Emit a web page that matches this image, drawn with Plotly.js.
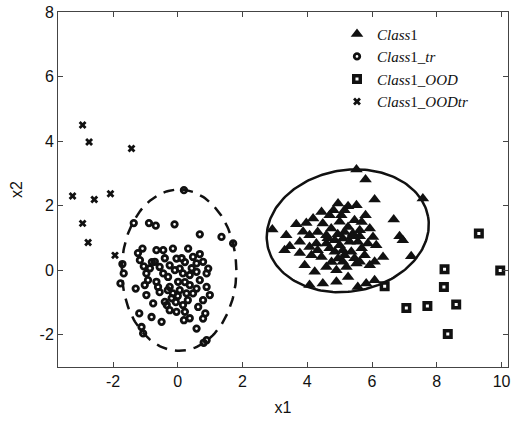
<!DOCTYPE html>
<html>
<head>
<meta charset="utf-8">
<script src="https://cdn.plot.ly/plotly-3.0.1.min.js"></script>
<style>html,body{margin:0;padding:0;background:#fff;}#chart{width:511px;height:425px;}</style>
</head>
<body>
<div id="chart"></div>
<script>
// Class1 (triangles)
const class1X = [5.52,5.80,6.08,7.57,6.67,6.85,6.95,7.21,2.92,3.35,3.66,3.97,4.18,4.44,4.95,5.26,5.52,4.81,5.05,5.80,
  3.87,4.07,4.48,4.74,4.59,5.00,5.26,5.41,5.62,5.93,6.03,3.77,4.07,4.28,4.59,4.85,5.10,5.31,5.56,5.87,
  6.13,4.13,4.44,4.85,5.10,5.36,4.95,5.10,3.92,4.23,4.59,4.90,5.21,5.52,5.26,5.62,5.93,6.08,6.34,4.48,
  4.07,5.56,5.82,6.08,4.90,4.69,5.15,5.46,5.68,5.15,5.37,4.94,4.63,4.32,5.68,4.75,5.15,5.46,5.77,4.32,
  3.77,3.46,3.30,5.00,4.69,5.62];
const class1Y = [3.12,2.81,2.19,2.22,1.57,1.05,0.93,0.43,1.26,1.08,1.42,1.46,1.60,1.80,2.07,1.98,2.01,1.86,1.70,1.70,
  1.19,1.08,1.45,1.29,1.08,1.50,1.34,1.14,1.24,1.29,1.03,0.88,0.72,0.83,0.83,0.93,0.98,0.88,0.88,0.83,
  0.77,0.46,0.41,0.57,0.62,0.57,0.36,0.26,0.15,-0.05,0.10,0.00,0.10,0.21,-0.21,0.26,0.15,0.26,0.41,-0.41,
  -0.46,-0.52,-0.41,-0.31,-0.36,1.70,1.86,1.55,1.49,1.18,1.05,1.11,0.99,1.18,0.68,0.25,0.46,0.37,0.46,0.62,
  0.53,0.74,0.62,0.77,0.68,1.05];

// Class1_tr (open circles)
const trX = [0.19,-1.36,-0.89,-0.68,-0.10,0.68,1.35,1.71,-1.09,-1.17,-0.66,-0.45,-0.15,0.32,0.68,-0.04,-1.71,-1.67,-1.77,-1.30,
  -0.97,-0.92,-1.02,-0.71,-0.56,-0.45,-0.30,0.06,0.16,0.01,0.47,0.58,0.78,0.94,0.58,0.89,-0.66,-0.61,-0.97,-0.76,
  -0.25,-0.15,0.06,0.37,0.58,0.89,0.27,0.47,-0.40,-0.25,-0.04,0.16,0.22,0.78,0.63,0.85,0.78,-1.19,-0.81,-0.50,
  0.19,0.58,-1.12,-1.07,0.89,0.80,-0.25,-0.09,0.22,0.37,-0.31,-0.19,0.31,-0.56,0.00,-0.40,-0.86,-0.80,0.22,0.43,
  0.68,0.12,-1.23,-1.05,-0.34,-0.06,0.99,0.37];
const trY = [2.48,1.46,1.46,1.38,1.42,1.11,1.03,0.83,0.67,0.31,0.62,0.62,0.67,0.67,0.50,0.36,0.19,-0.10,-0.41,-0.57,
  -0.10,-0.31,-0.46,0.26,0.10,-0.10,-0.21,0.05,-0.10,-0.36,0.41,0.21,0.26,0.05,-0.05,-0.10,-0.36,-0.52,-0.77,-1.03,
  -0.52,-0.72,-0.62,-0.46,-0.57,-0.52,-0.72,-0.72,-0.98,-1.24,-1.29,-1.08,-1.29,-0.93,-1.14,-1.34,-1.50,-1.34,-1.45,-1.60,
  -1.55,-1.81,-1.76,-1.96,-2.17,-2.25,0.15,0.00,0.25,-0.15,-0.62,-0.87,-0.93,-0.68,-0.80,0.37,0.06,0.25,-0.37,0.06,
  -0.31,0.37,0.53,0.12,-1.08,-0.99,-0.77,-1.49];

// Class1_OOD (open squares)
const oodX = [9.30,8.24,9.96,6.39,8.22,7.06,7.71,8.60,8.34];
const oodY = [1.14,0.03,-0.01,-0.50,-0.52,-1.17,-1.11,-1.06,-1.98];

// Class1_OODtr (x marks)
const oodtrX = [-2.94,-2.74,-1.43,-3.25,-2.58,-2.08,-2.94,-2.77,-1.94];
const oodtrY = [4.50,3.97,3.77,2.30,2.19,2.37,1.45,0.86,0.46];

// Boundary ellipses: [centerX, centerY, semiAxisA, semiAxisB, angleDeg]
const class1Ellipse = [5.25, 1.22, 2.52, 1.88, 10];
const trEllipse = [0.04, 0.0, 1.77, 2.5, 0];

const xTickVals = [-2,0,2,4,6,8,10];
const xTickText = ['-2','0','2','4','6','8','10'];
const yTickVals = [-2,0,2,4,6,8];
const yTickText = ['-2','0','2','4','6','8'];

function ellipse(p){
  const [cx,cy,a,b,deg] = p; const t = deg*Math.PI/180;
  const xs=[], ys=[];
  for(let i=0;i<=200;i++){
    const s = 2*Math.PI*i/200;
    const ex = a*Math.cos(s), ey = b*Math.sin(s);
    xs.push(cx + ex*Math.cos(t) - ey*Math.sin(t));
    ys.push(cy + ex*Math.sin(t) + ey*Math.cos(t));
  }
  return {xs, ys};
}
const e1 = ellipse(class1Ellipse), e2 = ellipse(trEllipse);

const traces = [
  {x:e1.xs, y:e1.ys, mode:'lines', line:{color:'#111', width:2.5}, showlegend:false, hoverinfo:'skip'},
  {x:e2.xs, y:e2.ys, mode:'lines', line:{color:'#111', width:2.5, dash:'11px,8px'}, showlegend:false, hoverinfo:'skip'},
  {x:class1X, y:class1Y, mode:'markers', name:'<i>Class</i>1',
   marker:{symbol:'triangle-up', size:11, color:'#111', line:{width:0}}},
  {x:trX, y:trY, mode:'markers', name:'<i>Class</i>1<i>_tr</i>',
   marker:{symbol:'circle-open', size:5.5, color:'#111', line:{width:2.8, color:'#111'}}},
  {x:oodX, y:oodY, mode:'markers', name:'<i>Class</i>1<i>_OOD</i>',
   marker:{symbol:'square-open', size:6.5, color:'#111', line:{width:3.5, color:'#111'}}},
  {x:oodtrX, y:oodtrY, mode:'markers', name:'<i>Class</i>1<i>_OODtr</i>',
   marker:{symbol:'x', size:7, color:'#111', line:{width:0}}}
];

const axisCommon = {
  showgrid:false, zeroline:false, showline:true, linecolor:'#444', linewidth:1,
  mirror:'ticks', ticks:'inside', ticklen:5, tickcolor:'#444',
  tickfont:{family:'Liberation Sans, Arial, sans-serif', size:16, color:'#111'}
};

const layout = {
  width:511, height:425,
  margin:{l:58, r:3, t:12, b:58},
  paper_bgcolor:'#fff', plot_bgcolor:'#fff',
  xaxis:Object.assign({}, axisCommon, {range:[-3.7,10.2], tickvals:xTickVals, ticktext:xTickText,
    title:{text:'x1', font:{family:'Liberation Sans, Arial, sans-serif', size:16, color:'#111'}, standoff:12}}),
  yaxis:Object.assign({}, axisCommon, {range:[-3,8], tickvals:yTickVals, ticktext:yTickText,
    title:{text:'x2', font:{family:'Liberation Sans, Arial, sans-serif', size:16, color:'#111'}, standoff:12}}),
  legend:{x:0.62, y:0.984, xanchor:'left', yanchor:'top', bgcolor:'rgba(0,0,0,0)', borderwidth:0,
    font:{family:'Liberation Serif, Times New Roman, serif', size:15, color:'#111'}, tracegroupgap:0},
  showlegend:true
};

Plotly.newPlot('chart', traces, layout, {displayModeBar:false, staticPlot:true});
</script>
</body>
</html>
